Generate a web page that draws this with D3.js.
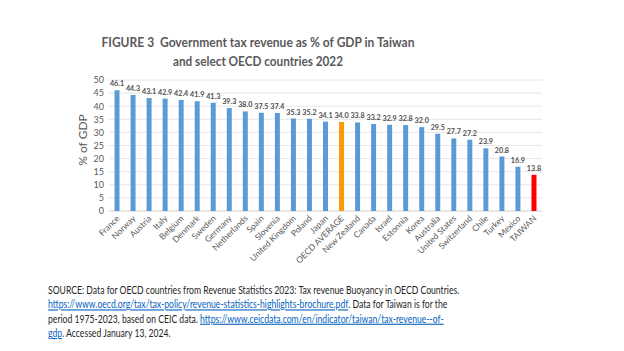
<!DOCTYPE html>
<html><head><meta charset="utf-8">
<script src="https://cdn.jsdelivr.net/npm/d3@7"></script>
<style>body{margin:0;background:#fff}svg{display:block}</style>
</head><body>
<script>
const categories = ["France","Norway","Austria","Italy","Belgium","Denmark","Sweden","Germany","Netherlands","Spain","Slovenia","United Kingdom","Poland","Japan","OECD AVERAGE","New Zealand","Canada","Israel","Estonnia","Korea","Australia","United States","Switzerland","Chile","Turkey","Mexico","TAIWAN"];
const values = [46.1,44.3,43.1,42.9,42.4,41.9,41.3,39.3,38.0,37.5,37.4,35.3,35.2,34.1,34.0,33.8,33.2,32.9,32.8,32.0,29.5,27.7,27.2,23.9,20.8,16.9,13.8];
const yTicks = [0,5,10,15,20,25,30,35,40,45,50];
const titleLines = ["FIGURE 3  Government tax revenue as % of GDP in Taiwan","and select OECD countries 2022"];
const yLabel = "% of GDP";

const W=624,H=351;
const font="Lato, 'Open Sans', sans-serif";
const svg=d3.select("body").append("svg").attr("width",W).attr("height",H);
const x=d3.scaleBand().domain(categories).range([109,542]).paddingInner(0.69).paddingOuter(0.345);
const y=d3.scaleLinear().domain([0,50]).range([211,80]);

// title
const titleW=[313,170];
svg.append("g").selectAll("text").data(titleLines).join("text")
  .attr("x",258).attr("y",(d,i)=>47+i*19).attr("text-anchor","middle")
  .attr("textLength",(d,i)=>titleW[i]).attr("lengthAdjust","spacingAndGlyphs")
  .style("white-space","pre")
  .attr("font-family",font).attr("font-weight","bold").attr("font-size",14).attr("fill","#595959").text(d=>d);

// grid
svg.append("g").selectAll("line").data(yTicks).join("line")
  .attr("x1",109).attr("x2",542).attr("y1",d=>y(d)).attr("y2",d=>y(d))
  .attr("stroke",d=>d===0?"#d0d0d0":"#e6e6e6").attr("stroke-width",1);

// y axis
const ya=svg.append("g").attr("transform","translate(104,0)").call(d3.axisLeft(y).tickValues(yTicks).tickSize(0).tickPadding(0));
ya.select(".domain").remove();
ya.selectAll("text").attr("font-family",font).attr("font-size",9).attr("fill","#595959");

svg.append("text").attr("transform","translate(87,140) rotate(-90)").attr("text-anchor","middle")
  .attr("font-family",font).attr("font-size",12).attr("fill","#595959").text(yLabel);

// bars
const color=d=>d==="OECD AVERAGE"?"#FF9900":d==="TAIWAN"?"#FF0000":"#5B9BD5";
svg.append("g").selectAll("rect").data(categories).join("rect")
  .attr("x",d=>x(d)).attr("width",x.bandwidth())
  .attr("y",(d,i)=>y(values[i])).attr("height",(d,i)=>y(0)-y(values[i]))
  .attr("fill",color);

// value labels
svg.append("g").selectAll("text").data(categories).join("text")
  .attr("x",d=>x(d)+x.bandwidth()/2).attr("y",(d,i)=>y(values[i])-4)
  .attr("text-anchor","middle").attr("font-family",font).attr("font-weight","bold").attr("font-size",7.2).attr("fill","#505050")
  .text((d,i)=>values[i].toFixed(1));

// x labels
const xa=svg.append("g").attr("transform","translate(0,211)").call(d3.axisBottom(x).tickSize(0).tickPadding(0));
xa.select(".domain").remove();
xa.selectAll("text").attr("font-family",font).attr("font-size",8.5).attr("fill","#595959")
  .attr("text-anchor","end").attr("dy",0).attr("transform","translate(3,8) rotate(-45)");

// source
const src=svg.append("g").attr("transform","translate(48,0) scale(0.785,1)")
  .append("text").attr("font-family",font).attr("font-size",11).attr("fill","#262626");
const lines=[
 [["SOURCE: Data for OECD countries from Revenue Statistics 2023: Tax revenue Buoyancy in OECD Countries.",false]],
 [["https://www.oecd.org/tax/tax-policy/revenue-statistics-highlights-brochure.pdf",true],[". Data for Taiwan is for the",false]],
 [["period 1975-2023, based on CEIC data. ",false],["https://www.ceicdata.com/en/indicator/taiwan/tax-revenue--of-",true]],
 [["gdp",true],[". Accessed January 13, 2024.",false]]
];
lines.forEach((ln,i)=>{
  ln.forEach((seg,j)=>{
    const t=src.append("tspan").style("white-space","pre").text(seg[0]);
    if(j===0) t.attr("x",0).attr("y",294+i*14.3);
    if(seg[1]) t.attr("fill","#0563C1").attr("text-decoration","underline");
  });
});
</script>
</body></html>
